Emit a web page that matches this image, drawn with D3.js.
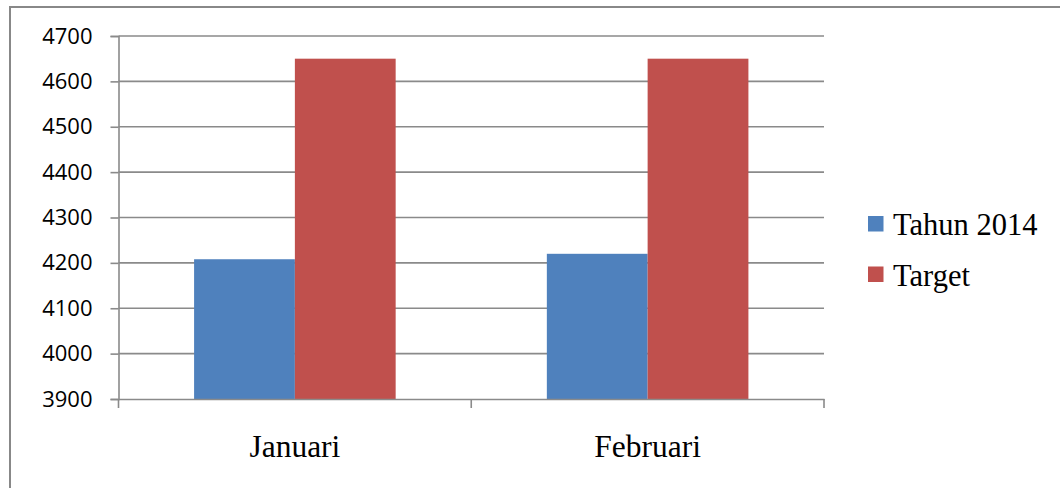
<!DOCTYPE html>
<html>
<head>
<meta charset="utf-8">
<script src="https://cdn.jsdelivr.net/npm/d3@7"></script>
<style>
  html, body { margin: 0; padding: 0; background: #ffffff; }
  svg { display: block; }
</style>
</head>
<body>
<svg id="chart" width="1060" height="488"></svg>
<script>
const categories = ["Januari", "Februari"];
const seriesNames = ["Tahun 2014", "Target"];
const tahun2014 = [4208, 4220];
const target = [4650, 4650];
const yTicks = [3900, 4000, 4100, 4200, 4300, 4400, 4500, 4600, 4700];
const seriesColors = ["#4F81BD", "#C0504D"];

const seriesValues = [tahun2014, target];
const svg = d3.select("#chart");

// outer frame
svg.append("rect")
  .attr("x", 10).attr("y", 7)
  .attr("width", 1070).attr("height", 500)
  .attr("fill", "none").attr("stroke", "#888888").attr("stroke-width", 2);

const plot = { left: 118.5, right: 824, top: 36, bottom: 399 };

const x0 = d3.scaleBand().domain(categories).range([plot.left, plot.right]).padding(0);
const x1 = d3.scaleBand().domain(seriesNames).range([0, x0.bandwidth()])
  .paddingInner(0).paddingOuter(0.75);
const y = d3.scaleLinear().domain([3900, 4700]).range([plot.bottom, plot.top]);

// gridlines
svg.append("g").selectAll("line").data(yTicks.filter(t => t !== 3900)).join("line")
  .attr("x1", plot.left).attr("x2", plot.right)
  .attr("y1", d => y(d)).attr("y2", d => y(d))
  .attr("stroke", "#8a8a8a").attr("stroke-width", 1.6);

// bars
const groups = svg.append("g").selectAll("g").data(categories).join("g")
  .attr("transform", d => `translate(${x0(d)},0)`);
groups.selectAll("rect")
  .data((c, i) => seriesNames.map((s, j) => ({ s, v: seriesValues[j][i], j })))
  .join("rect")
  .attr("x", d => x1(d.s))
  .attr("width", x1.bandwidth())
  .attr("y", d => y(d.v))
  .attr("height", d => y(3900) - y(d.v))
  .attr("fill", d => seriesColors[d.j]);

// y axis
const yAxis = d3.axisLeft(y).tickValues(yTicks).tickSize(8).tickPadding(18).tickFormat(d3.format("d"));
const yg = svg.append("g").attr("transform", `translate(${plot.left},0)`).call(yAxis);
yg.select(".domain").attr("stroke", "#8a8a8a").attr("stroke-width", 1.6);
yg.selectAll(".tick line").attr("stroke", "#8a8a8a").attr("stroke-width", 1.6);
yg.selectAll(".tick text")
  .attr("font-family", "'Open Sans', 'Noto Sans', sans-serif")
  .attr("font-size", 22).attr("fill", "#000");

// x axis
const xAxis = d3.axisBottom(x0).tickSize(0).tickPadding(0);
const xg = svg.append("g").attr("transform", `translate(0,${plot.bottom})`).call(xAxis);
xg.select(".domain").attr("stroke", "#8a8a8a").attr("stroke-width", 1.6);
xg.selectAll(".tick text")
  .attr("font-family", "'Liberation Serif', 'Times New Roman', serif")
  .attr("font-size", 31.5).attr("fill", "#000")
  .attr("dy", null).attr("y", 58);
// category boundary tick marks
const bounds = [plot.left, ...categories.map(c => x0(c) + x0.bandwidth())];
xg.append("g").selectAll("line").data(bounds).join("line")
  .attr("x1", d => d).attr("x2", d => d)
  .attr("y1", 0).attr("y2", 9)
  .attr("stroke", "#8a8a8a").attr("stroke-width", 1.6);

// legend
const legend = svg.append("g");
const items = legend.selectAll("g").data(seriesNames).join("g")
  .attr("transform", (d, i) => `translate(868,${216 + i * 50.5})`);
items.append("rect").attr("width", 15.5).attr("height", 15.5)
  .attr("fill", (d, i) => seriesColors[i]);
items.append("text").attr("x", 25).attr("y", 19)
  .attr("font-family", "'Liberation Serif', 'Times New Roman', serif")
  .attr("font-size", 30.5).attr("fill", "#000")
  .text(d => d);
</script>
</body>
</html>
